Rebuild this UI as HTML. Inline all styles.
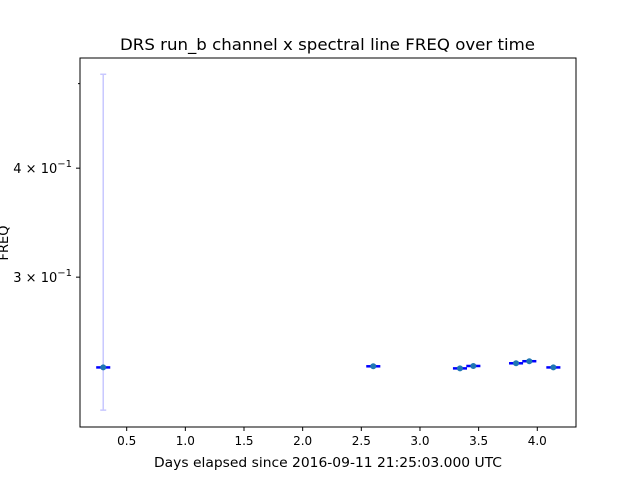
<!DOCTYPE html>
<html><head><meta charset="utf-8"><style>body{margin:0;background:#fff}svg{display:block;font-family:"DejaVu Sans","Liberation Sans",sans-serif}</style></head>
<body>
<svg id="chart" width="640" height="480" viewBox="0 0 640 480" xmlns="http://www.w3.org/2000/svg">
<rect x="0" y="0" width="640" height="480" fill="#fff"/>
<text x="120" y="50" font-size="16" textLength="415" lengthAdjust="spacingAndGlyphs">DRS run_b channel x spectral line FREQ over time</text>
<text x="154" y="467" font-size="13" textLength="348" lengthAdjust="spacingAndGlyphs">Days elapsed since 2016-09-11 21:25:03.000 UTC</text>
<text transform="translate(8,243) rotate(-90)" font-size="13" text-anchor="middle">FREQ</text>
<g id="axes"></g>
<g id="marks"></g>
<rect x="80" y="58" width="496" height="369" fill="none" stroke="#000" stroke-width="1"/>
</svg>
<script>
const xVals = [0.30, 2.602, 3.341, 3.455, 3.819, 3.932, 4.137];
const yVals = [0.2364, 0.2371, 0.2358, 0.2373, 0.2390, 0.2403, 0.2364];
const yLow  = [0.2112, 0.2366, 0.2352, 0.2368, 0.2385, 0.2398, 0.2359];
const yHigh = [0.5125, 0.2376, 0.2364, 0.2378, 0.2395, 0.2408, 0.2369];
const xErr  = [0.06, 0.06, 0.06, 0.06, 0.06, 0.06, 0.06];
const xTicks = [0.5, 1.0, 1.5, 2.0, 2.5, 3.0, 3.5, 4.0];
const xTickLabels = ["0.5","1.0","1.5","2.0","2.5","3.0","3.5","4.0"];
const yMajor = [0.4, 0.3];
const yMajorMant = ["4", "3"];
const yMinor = [0.5];

const X0=80,X1=576,Y0=58,Y1=427;
const xMin=0.102,xMax=4.330,yMin=0.2020,yMax=0.535;
const xs=v=>X0+(v-xMin)/(xMax-xMin)*(X1-X0);
const ys=v=>Y1-(Math.log10(v)-Math.log10(yMin))/(Math.log10(yMax)-Math.log10(yMin))*(Y1-Y0);
const NS="http://www.w3.org/2000/svg";
function mk(tag,attrs,parent){const e=document.createElementNS(NS,tag);for(const k in attrs)e.setAttribute(k,attrs[k]);parent.appendChild(e);return e;}
const axes=document.getElementById('axes'), marks=document.getElementById('marks');

xTicks.forEach((t,i)=>{
  const x=xs(t);
  const l=mk('line',{x1:x,x2:x,y1:Y1,y2:Y1+4,stroke:'#000'},axes);
  
  
  const tx=mk('text',{x:x,y:Y1+18,'font-size':12,'text-anchor':'middle'},axes);
  tx.textContent=xTickLabels[i];
  
  
});
yMajor.forEach((t,i)=>{
  const y=ys(t);
  const l=mk('line',{x1:X0-4,x2:X0,y1:y,y2:y,stroke:'#000'},axes);
  
  
  const tx=mk('text',{x:X0-8,y:y+5,'font-size':13,'text-anchor':'end'},axes);
  tx.innerHTML=yMajorMant[i]+' \u00d7 10<tspan dy="-6" font-size="10">\u22121</tspan>';
  
  
});
yMinor.forEach(t=>{
  const y=ys(t);
  const l=mk('line',{x1:X0-2,x2:X0,y1:y,y2:y,stroke:'#000'},axes);
  
  
});
xVals.forEach((xv,i)=>{
  const x=xs(xv), y=ys(yVals[i]);
  const g=mk('g',{},marks);
  
  
  mk('line',{x1:x,x2:x,y1:ys(yHigh[i]),y2:ys(yLow[i]),stroke:'#c8c8ff','stroke-width':1.5},g);
  mk('line',{x1:x-3,x2:x+3,y1:ys(yHigh[i]),y2:ys(yHigh[i]),stroke:'#c8c8ff','stroke-width':1.5},g);
  mk('line',{x1:x-3,x2:x+3,y1:ys(yLow[i]),y2:ys(yLow[i]),stroke:'#c8c8ff','stroke-width':1.5},g);
  mk('line',{x1:xs(xv-xErr[i]),x2:xs(xv+xErr[i]),y1:y,y2:y,stroke:'#0000ff','stroke-width':2.5},g);
  mk('circle',{cx:x,cy:y,r:3,fill:'#1f77b4'},g);
});
</script>
</body></html>
